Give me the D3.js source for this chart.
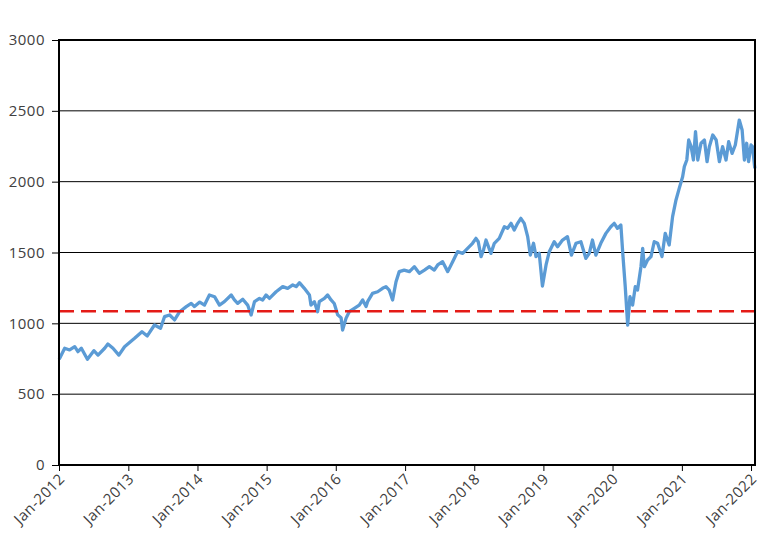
<!DOCTYPE html>
<html><head><meta charset="utf-8">
<script src="https://cdn.jsdelivr.net/npm/d3@7"></script>
<style>
html,body{margin:0;padding:0;background:#fff;}
svg{display:block;}
text{font-family:"Open Sans","Noto Sans",sans-serif;fill:#404040;}
</style></head>
<body>
<svg id="chart" width="781" height="558"></svg>
<script>
const dates = ["2012-01-02","2012-01-31","2012-02-26","2012-03-24","2012-04-10","2012-04-28","2012-05-30","2012-07-03","2012-07-25","2012-08-29","2012-09-15","2012-10-12","2012-11-12","2012-12-12",
"2013-02-03","2013-03-14","2013-04-11","2013-05-19","2013-06-20","2013-07-11","2013-08-07","2013-09-02","2013-09-29","2013-11-03","2013-11-29","2013-12-16",
"2014-01-13","2014-02-07","2014-03-05","2014-04-01","2014-04-27","2014-05-23","2014-06-28","2014-07-15","2014-08-01","2014-08-28","2014-09-23","2014-10-11","2014-10-29","2014-11-24","2014-12-11","2014-12-29",
"2015-01-16","2015-02-20","2015-03-27","2015-04-22","2015-05-19","2015-06-06","2015-06-23","2015-07-19","2015-08-15","2015-08-23","2015-09-10","2015-09-27","2015-10-06","2015-11-02","2015-11-19","2015-12-07","2015-12-24",
"2016-01-11","2016-01-29","2016-02-06","2016-02-24","2016-03-12","2016-04-08","2016-05-04","2016-05-22","2016-06-09","2016-06-17","2016-07-13","2016-08-09","2016-09-04","2016-09-22","2016-10-09","2016-10-27","2016-11-14","2016-12-01","2016-12-27",
"2017-01-24","2017-02-19","2017-03-17","2017-04-13","2017-05-09","2017-06-04","2017-06-22","2017-07-18","2017-08-14","2017-09-09","2017-10-05","2017-11-01","2017-11-19","2017-12-06","2017-12-23",
"2018-01-10","2018-01-22","2018-02-06","2018-02-19","2018-03-04","2018-03-30","2018-04-17","2018-05-13","2018-06-09","2018-06-26","2018-07-14","2018-07-31","2018-08-18","2018-09-04","2018-09-22","2018-10-10","2018-10-24","2018-11-10","2018-11-23","2018-12-10","2018-12-27",
"2019-01-15","2019-02-01","2019-02-27","2019-03-17","2019-04-12","2019-05-08","2019-05-29","2019-06-22","2019-07-18","2019-08-13","2019-08-31","2019-09-17","2019-10-05","2019-10-31","2019-11-27","2019-12-23",
"2020-01-10","2020-01-27","2020-02-14","2020-02-24","2020-03-08","2020-03-21","2020-04-02","2020-04-16","2020-04-30","2020-05-12","2020-05-30","2020-06-08","2020-06-17","2020-07-04","2020-07-22","2020-08-08","2020-08-26","2020-09-18","2020-10-05","2020-10-26","2020-11-13","2020-12-01","2020-12-18",
"2021-01-05","2021-01-14","2021-01-27","2021-02-06","2021-02-19","2021-03-03","2021-03-14","2021-03-26","2021-04-12","2021-04-30","2021-05-14","2021-05-26","2021-06-13","2021-07-01","2021-07-18","2021-08-04","2021-08-22","2021-09-05","2021-09-23","2021-10-10","2021-10-31","2021-11-15","2021-11-27","2021-12-09","2021-12-19",
"2022-01-01","2022-01-09","2022-01-21"];
const values = [746,824,812,835,800,824,746,807,776,824,854,824,776,835,
894,941,911,988,965,1047,1059,1024,1082,1118,1141,1118,
1150,1129,1200,1188,1129,1153,1200,1165,1141,1170,1129,1059,1153,1176,1165,1200,
1176,1223,1259,1247,1271,1259,1287,1247,1200,1129,1153,1082,1153,1176,1200,1165,1140,
1060,1040,953,1035,1082,1106,1129,1165,1118,1153,1212,1223,1247,1259,1235,1165,1294,1365,1376,
1365,1400,1353,1376,1400,1376,1412,1435,1365,1435,1506,1494,1518,1541,1565,
1600,1576,1471,1518,1588,1494,1565,1600,1682,1671,1706,1659,1706,1741,1706,1612,1482,1565,1471,1494,1263,
1412,1506,1576,1541,1588,1612,1482,1565,1576,1459,1494,1588,1482,1565,1635,1682,
1706,1671,1694,1494,1259,988,1188,1129,1259,1235,1400,1529,1400,1447,1471,1576,1565,1471,1635,1553,1753,1871,1953,
2035,2106,2153,2294,2247,2153,2353,2153,2271,2294,2141,2247,2329,2294,2141,2247,2153,2282,2200,2259,2435,2365,2153,2271,2141,
2259,2247,2094];
const refValue = 1085;
const yTicks = [0,500,1000,1500,2000,2500,3000];
const xTickYears = [2012,2013,2014,2015,2016,2017,2018,2019,2020,2021,2022];

const svg = d3.select("#chart");
const L = 59, R = 755, T = 40, B = 465;
const parse = d3.timeParse("%Y-%m-%d");
const data = dates.map((d,i)=>({date:parse(d), value:values[i]}));

const x = d3.scaleTime().domain([new Date(2012,0,1), new Date(2022,0,22)]).range([L,R]);
const y = d3.scaleLinear().domain([0,3000]).range([B,T]);

// gridlines
svg.append("g").selectAll("line").data(yTicks.filter(v=>v>0 && v<3000)).join("line")
  .attr("x1",L).attr("x2",R).attr("y1",d=>y(d)).attr("y2",d=>y(d))
  .attr("stroke","#000").attr("stroke-width",1);

// y axis
const yAxis = svg.append("g").attr("transform",`translate(${L},0)`)
  .call(d3.axisLeft(y).tickValues(yTicks).tickSize(7).tickPadding(7).tickFormat(d3.format("d")));
yAxis.select(".domain").remove();
yAxis.selectAll(".tick line").attr("stroke","#000");
yAxis.selectAll("text").style("font-size","15px").style("letter-spacing","0.5px").attr("fill","#404040");

// x axis
const xAxis = svg.append("g").attr("transform",`translate(0,${B})`)
  .call(d3.axisBottom(x).tickValues(xTickYears.map(yr=>new Date(yr,0,1))).tickSize(6).tickFormat(d3.timeFormat("%b-%Y")));
xAxis.select(".domain").remove();
xAxis.selectAll(".tick line").attr("stroke","#000");
xAxis.selectAll("text").style("font-size","15px").style("letter-spacing","0.4px").attr("fill","#404040")
  .attr("text-anchor","end").attr("dy","0").attr("y",0)
  .attr("transform","translate(6,15) rotate(-45)");

// data line
const line = d3.line().x(d=>x(d.date)).y(d=>y(d.value));
svg.append("path").datum(data).attr("d",line)
  .attr("fill","none").attr("stroke","#5b9bd5").attr("stroke-width",3.3).attr("stroke-linejoin","round");

// reference dashed line
svg.append("line").attr("x1",L).attr("x2",R).attr("y1",y(refValue)).attr("y2",y(refValue))
  .attr("stroke","#e41b17").attr("stroke-width",2.5).attr("stroke-dasharray","15,7");

// frame
svg.append("rect").attr("x",L).attr("y",T).attr("width",R-L).attr("height",B-T)
  .attr("fill","none").attr("stroke","#000").attr("stroke-width",2);
</script>
</body></html>
